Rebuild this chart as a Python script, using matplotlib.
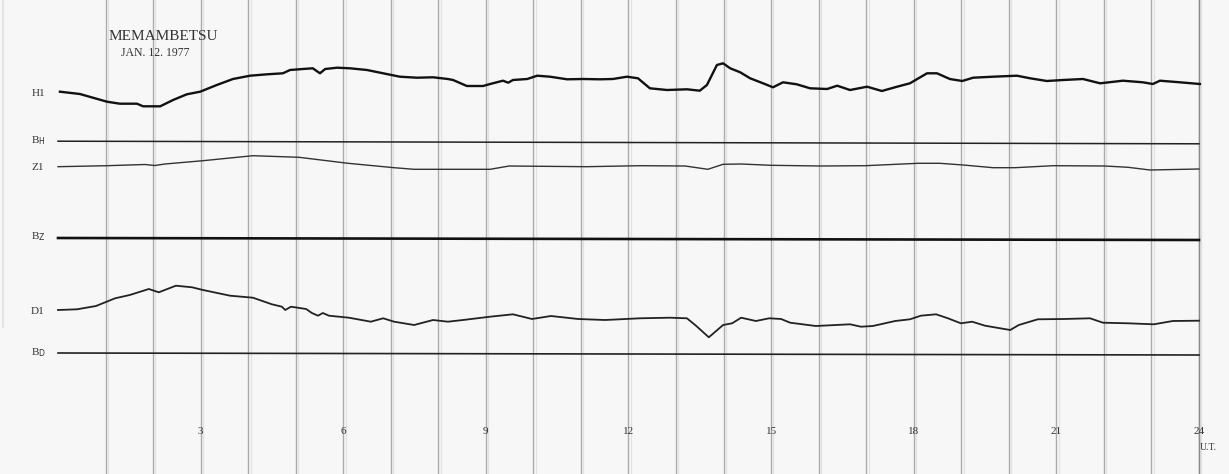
"""
Memambetsu magnetogram, Jan 12 1977 (H, Z, D traces)
"""
import numpy as np
import matplotlib.pyplot as plt

# hours (UT) and trace height above its baseline (record mm, approx)
h_hours = [0.04, 0.46, 1.03, 1.30, 1.66, 1.79, 2.15, 2.42, 2.71, 2.99, 3.34, 3.68,
           4.04, 4.40, 4.73, 4.88, 5.15, 5.36, 5.51, 5.62, 5.87, 6.14, 6.50, 6.84,
           7.19, 7.55, 7.89, 8.20, 8.31, 8.60, 8.94, 9.09, 9.36, 9.47, 9.57, 9.87,
           10.08, 10.35, 10.71, 11.04, 11.40, 11.67, 11.97, 12.20, 12.45, 12.81,
           13.23, 13.50, 13.65, 13.86, 13.99, 14.14, 14.35, 14.56, 14.83, 15.04,
           15.25, 15.54, 15.82, 16.18, 16.39, 16.66, 17.02, 17.33, 17.65, 17.92,
           18.28, 18.49, 18.76, 19.02, 19.25, 19.67, 20.17, 20.45, 20.80, 21.14,
           21.56, 21.92, 22.40, 22.82, 23.03, 23.18, 23.60, 24.02]
h_vals = [50.3, 48, 40.3, 38.3, 38.3, 35.7, 35.7, 42, 47.7, 50.3, 57, 63,
          66.3, 67.7, 68.7, 72, 73, 73.7, 68.7, 73, 74.3, 73.7, 72, 68.7,
          65.3, 64.3, 64.7, 63, 62, 56, 56, 58, 61.3, 59.3, 62, 63,
          66.3, 65.3, 62.7, 63, 62.7, 63, 65.3, 63.7, 53.7, 52,
          52.7, 51.3, 57, 77, 78.7, 73.7, 69.7, 63.7, 58.7, 54.7,
          59.7, 57.7, 53.7, 53, 56.3, 52, 55.3, 51, 55.3, 58.7,
          68.7, 68.7, 63, 61, 64.3, 65.3, 66.3, 63.7, 61, 62,
          63, 58.7, 61.3, 59.7, 58, 61.3, 59.7, 58]

z_hours = [0.00, 1.03, 1.83, 2.04, 2.25, 3.05, 4.10, 5.07, 6.10, 7.07, 7.49, 9.09,
           9.49, 11.11, 12.24, 13.19, 13.67, 13.99, 14.37, 15.00, 16.03, 16.98,
           18.09, 18.55, 19.04, 19.67, 20.13, 20.93, 22.02, 22.51, 22.97, 24.00]
z_vals = [72.3, 73.3, 74.5, 73.5, 75, 78.3, 83.3, 81.7, 75.7, 71.3, 69.7, 69.7,
          73, 72.3, 73.3, 73, 69.7, 74.7, 75, 73.7, 73, 73.3,
          75.7, 75.7, 74, 71.3, 71.3, 73.3, 73, 71.7, 69, 70]

d_hours = [0.00, 0.40, 0.80, 1.20, 1.51, 1.91, 2.12, 2.48, 2.82, 3.05, 3.62, 4.10,
           4.50, 4.71, 4.78, 4.90, 5.22, 5.34, 5.47, 5.57, 5.70, 6.12, 6.58, 6.84,
           7.07, 7.49, 7.89, 8.20, 8.52, 9.09, 9.57, 9.97, 10.37, 10.94, 11.51,
           12.24, 12.87, 13.23, 13.42, 13.69, 13.99, 14.18, 14.37, 14.68, 14.96,
           15.21, 15.40, 15.94, 16.66, 16.89, 17.14, 17.61, 17.92, 18.15, 18.47,
           18.72, 18.99, 19.23, 19.50, 20.03, 20.21, 20.61, 21.16, 21.71, 21.98,
           22.51, 23.05, 23.45, 24.00]
d_vals = [44, 44.7, 48, 55.7, 59, 65, 61.7, 68.3, 66.7, 64, 58.3, 56.3,
          49.7, 47.3, 44, 47.3, 45, 41, 38.3, 41, 38.3, 36.3, 32.3, 35.7,
          32.3, 29, 34, 32.3, 34, 37.3, 39.7, 35, 38, 35, 34,
          35.7, 36.3, 35.7, 28.3, 16.7, 29, 30.7, 36.3, 33, 35.7,
          35, 31.3, 28, 29.7, 27.3, 28, 33, 34.7, 38.3, 39.7,
          35.7, 30.7, 32.3, 28.3, 24, 29, 34.7, 35, 35.7, 31.3,
          30.7, 29.7, 33, 33.3]

hour_ticks = [3, 6, 9, 12, 15, 18, 21, 24]

# record layout (mm from top of sheet)
H_BASE, Z_BASE, D_BASE = 142, 239, 354
PX_PER_HOUR = 47.54
X0 = 58


def to_rec(base, vals):
    return base - np.array(vals)


fig = plt.figure(figsize=(12.29, 4.74), dpi=100)
fig.patch.set_facecolor("#f7f7f7")
ax = fig.add_axes([0, 0, 1, 1])
ax.set_facecolor("#f7f7f7")
ax.set_xlim(-X0 / PX_PER_HOUR, (1229 - X0) / PX_PER_HOUR)
ax.set_ylim(474, 0)
ax.axis("off")

# hour lines
for hr in range(1, 25):
    ax.axvline(hr, color="#ababab", lw=1.0, zorder=1)
    ax.axvline(hr + 0.05, color="#e2e2e2", lw=0.9, zorder=1)
ax.axvline(24, color="#8a8a8a", lw=1.0, zorder=1)
ax.axvline(-1.15, ymin=0.31, ymax=1.0, color="#e4e4e4", lw=1.5, zorder=1)

# baselines
ax.plot([0, 24], [H_BASE - 0.8, H_BASE + 1.8], color="#222222", lw=1.1)
ax.plot([0, 24], [Z_BASE - 1.0, Z_BASE + 1.0], color="#111111", lw=1.9)
ax.plot([0, 24], [D_BASE - 1.0, D_BASE + 1.0], color="#222222", lw=1.2)

# traces
ax.plot(h_hours, to_rec(H_BASE, h_vals), color="#111111", lw=1.7)
ax.plot(z_hours, to_rec(Z_BASE, z_vals), color="#333333", lw=1.0)
ax.plot(d_hours, to_rec(D_BASE, d_vals), color="#222222", lw=1.3)

serif = "Liberation Serif"
lx = -0.42
ax.text(lx, 93, "H1", family=serif, fontsize=8, ha="center", va="center", color="#333333")
ax.text(lx, 141, r"B$_{\rm H}$", family=serif, fontsize=8, ha="center", va="center", color="#333333")
ax.text(lx, 168, "Z1", family=serif, fontsize=8, ha="center", va="center", color="#333333")
ax.text(lx, 237, r"B$_{\rm Z}$", family=serif, fontsize=8, ha="center", va="center", color="#333333")
ax.text(lx, 311, "D1", family=serif, fontsize=8, ha="center", va="center", color="#333333")
ax.text(lx, 353, r"B$_{\rm D}$", family=serif, fontsize=8, ha="center", va="center", color="#333333")

ax.text(2.21, 36, "MEMAMBETSU", family=serif, fontsize=11, ha="center", va="center",
        color="#333333")
ax.text(2.04, 53, "JAN. 12. 1977", family=serif, fontsize=8.5, ha="center", va="center",
        color="#333333")

for t in hour_ticks:
    ax.text(t, 432, str(t), family=serif, fontsize=8, ha="center", va="center", color="#333333")
ax.text(24.2, 447, "U.T.", family=serif, fontsize=7, ha="center", va="center", color="#333333")

fig.savefig("out.png", dpi=100, facecolor=fig.get_facecolor())
